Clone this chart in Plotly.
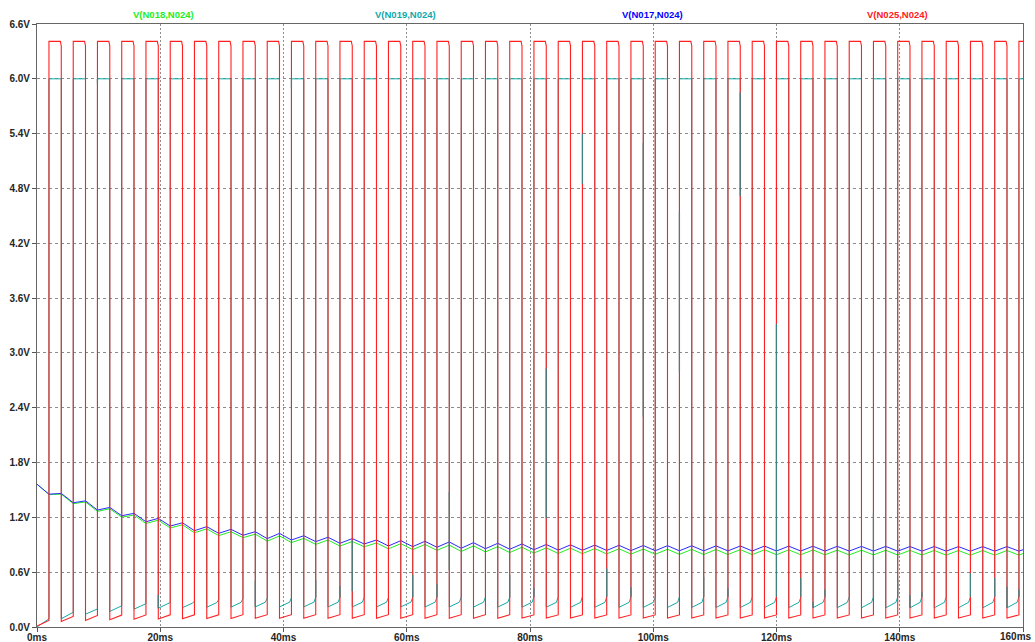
import plotly.graph_objects as go

# ---------------------------------------------------------------------------
# Transient result: four node voltages referenced to N024
# ---------------------------------------------------------------------------

# start of each switching cycle (ms); every cycle opens with the low phase
cycle_start = [
    0.00, 3.94, 7.87, 11.81, 15.74, 19.68, 23.61, 27.55, 31.48, 35.42,
    39.35, 43.29, 47.22, 51.16, 55.09, 59.03, 62.96, 66.90, 70.83, 74.77,
    78.70, 82.64, 86.57, 90.51, 94.44, 98.38, 102.31, 106.25, 110.18, 114.12,
    118.05, 121.99, 125.92, 129.86, 133.79, 137.73, 141.66, 145.60, 149.53, 153.47,
    157.40,
]
low_time = 1.94      # ms spent in the low phase of every cycle
t_end = 160.0

# V(N025,N024): switching node
red_low_start = [
    0.010, 0.060, 0.072, 0.080, 0.085, 0.088, 0.090, 0.092, 0.094, 0.095,
    0.096, 0.096, 0.096, 0.096, 0.096, 0.096, 0.096, 0.096, 0.096, 0.096,
    0.098, 0.098, 0.098, 0.098, 0.098, 0.098, 0.098, 0.098, 0.098, 0.098,
    0.098, 0.098, 0.098, 0.098, 0.098, 0.098, 0.098, 0.098, 0.098, 0.098,
    0.098,
]
red_low_end = [
    0.072, 0.116, 0.127, 0.130, 0.132, 0.133, 0.134, 0.134, 0.135, 0.135,
    0.135, 0.135, 0.135, 0.135, 0.135, 0.135, 0.135, 0.135, 0.135, 0.135,
    0.132, 0.132, 0.132, 0.132, 0.132, 0.132, 0.132, 0.132, 0.132, 0.132,
    0.132, 0.132, 0.132, 0.132, 0.132, 0.132, 0.132, 0.132, 0.132, 0.132,
    0.132,
]
red_high = 6.41
red_high_end = 6.36

# V(N019,N024): ramps in the low phase, clamps to 6.0 V in the high phase
teal_low_start = [
    0.000, 0.090, 0.140, 0.170, 0.195, 0.205, 0.212, 0.216, 0.218, 0.220,
    0.220, 0.220, 0.220, 0.220, 0.220, 0.220, 0.219, 0.219, 0.218, 0.218,
    0.217, 0.217, 0.216, 0.216, 0.215, 0.215, 0.214, 0.214, 0.213, 0.213,
    0.212, 0.212, 0.211, 0.211, 0.210, 0.210, 0.210, 0.210, 0.210, 0.210,
    0.210,
]
teal_low_knee = [
    0.076, 0.150, 0.186, 0.220, 0.242, 0.255, 0.262, 0.268, 0.270, 0.272,
    0.272, 0.272, 0.272, 0.272, 0.272, 0.272, 0.272, 0.272, 0.272, 0.272,
    0.272, 0.270, 0.270, 0.270, 0.270, 0.270, 0.270, 0.270, 0.270, 0.270,
    0.270, 0.270, 0.270, 0.270, 0.270, 0.270, 0.270, 0.270, 0.270, 0.270,
    0.270,
]
teal_low_end = [
    0.090, 0.162, 0.198, 0.232, 0.255, 0.268, 0.282, 0.300, 0.312, 0.318,
    0.322, 0.325, 0.325, 0.328, 0.325, 0.325, 0.328, 0.330, 0.328, 0.325,
    0.330, 0.335, 0.334, 0.330, 0.330, 0.330, 0.330, 0.330, 0.330, 0.330,
    0.330, 0.320, 0.325, 0.330, 0.330, 0.330, 0.330, 0.330, 0.330, 0.330,
    0.330,
]
teal_high = 6.0

# V(N017,N024): value at each cycle start (peak) and at the low-to-high edge (trough)
blue_peak = [
    1.563, 1.462, 1.381, 1.309, 1.244, 1.189, 1.141, 1.098, 1.069, 1.043,
    1.025, 0.999, 0.982, 0.967, 0.952, 0.945, 0.938, 0.931, 0.923, 0.916,
    0.909, 0.903, 0.899, 0.896, 0.894, 0.892, 0.890, 0.889, 0.888, 0.887,
    0.886, 0.885, 0.884, 0.883, 0.882, 0.882, 0.881, 0.881, 0.880, 0.880,
    0.880,
]
blue_trough = [
    1.454, 1.360, 1.280, 1.218, 1.152, 1.105, 1.054, 1.025, 1.004, 0.967,
    0.952, 0.934, 0.916, 0.909, 0.887, 0.880, 0.873, 0.862, 0.857, 0.851,
    0.846, 0.842, 0.840, 0.838, 0.836, 0.835, 0.834, 0.833, 0.833, 0.832,
    0.832, 0.832, 0.831, 0.831, 0.831, 0.830, 0.830, 0.830, 0.830, 0.830,
    0.830,
]
blue_end = 0.846

# V(N018,N024)
green_peak = [
    1.563, 1.454, 1.369, 1.294, 1.226, 1.169, 1.119, 1.074, 1.043, 1.016,
    0.997, 0.970, 0.952, 0.936, 0.920, 0.912, 0.904, 0.896, 0.888, 0.880,
    0.873, 0.866, 0.862, 0.858, 0.856, 0.853, 0.851, 0.849, 0.848, 0.847,
    0.845, 0.844, 0.843, 0.841, 0.840, 0.840, 0.839, 0.838, 0.837, 0.837,
    0.837,
]
green_trough = [
    1.450, 1.350, 1.266, 1.202, 1.133, 1.084, 1.031, 1.000, 0.978, 0.939,
    0.924, 0.904, 0.886, 0.878, 0.855, 0.847, 0.839, 0.827, 0.822, 0.815,
    0.810, 0.805, 0.803, 0.800, 0.798, 0.796, 0.795, 0.793, 0.793, 0.792,
    0.791, 0.791, 0.790, 0.789, 0.789, 0.788, 0.788, 0.787, 0.787, 0.787,
    0.787,
]
green_end = 0.804

# short switching glitches on V(N019,N024): time (ms), lower and upper voltage
spike_t = [9.81, 19.68, 35.42, 41.29, 45.23, 49.16, 51.16, 60.97, 64.90, 66.90,
           76.71, 80.64, 82.64, 88.51, 92.45, 96.38, 98.38, 104.25, 108.19, 112.12,
           114.12, 119.99, 123.93, 125.92, 127.86, 135.73, 139.67, 141.66, 143.60, 151.47,
           155.41, 157.40, 159.34]
spike_lo = [5.95, 0.205, 0.220, 5.90, 0.325, 0.325, 0.390, 0.325, 0.325, 0.625,
            0.325, 0.330, 1.190, 4.850, 0.330, 0.330, 2.300, 2.790, 0.330, 0.330,
            4.720, 0.330, 0.330, 0.210, 0.330, 0.330, 0.330, 0.210, 0.330, 0.330,
            0.330, 0.210, 0.330]
spike_hi = [6.00, 0.350, 0.505, 6.00, 0.516, 0.450, 0.950, 0.570, 0.470, 1.480,
            0.570, 0.425, 2.830, 5.400, 0.640, 0.436, 5.300, 4.550, 0.550, 0.425,
            5.850, 3.320, 0.540, 0.270, 0.410, 1.244, 0.524, 0.350, 0.380, 0.590,
            0.540, 0.440, 0.410]

x_ticks = [0, 20, 40, 60, 80, 100, 120, 140, 160]
x_tick_text = ["0ms", "20ms", "40ms", "60ms", "80ms", "100ms", "120ms", "140ms", "160ms"]
y_ticks = [0.0, 0.6, 1.2, 1.8, 2.4, 3.0, 3.6, 4.2, 4.8, 5.4, 6.0, 6.6]
y_tick_text = ["0.0V", "0.6V", "1.2V", "1.8V", "2.4V", "3.0V", "3.6V",
               "4.2V", "4.8V", "5.4V", "6.0V", "6.6V"]

trace_names = ["V(N018,N024)", "V(N019,N024)", "V(N017,N024)", "V(N025,N024)"]
trace_colors = ["#22ee22", "#11aaaa", "#0000ff", "#ff2020"]
spike_color = "#3f8282"


def cycle_bounds(k):
    s = cycle_start[k]
    e = cycle_start[k + 1] if k + 1 < len(cycle_start) else t_end
    return s, min(s + low_time, e), e


def triangle_wave(peaks, troughs, end_value):
    xs, ys = [], []
    for k in range(len(cycle_start)):
        s, r, _ = cycle_bounds(k)
        xs += [s, r]
        ys += [peaks[k], troughs[k]]
    xs.append(t_end)
    ys.append(end_value)
    return xs, ys


def teal_wave():
    xs, ys = [], []
    for k in range(len(cycle_start)):
        s, r, e = cycle_bounds(k)
        xs += [s, s + 0.85 * (r - s), r, r, e]
        ys += [teal_low_start[k], teal_low_knee[k], teal_low_end[k], teal_high, teal_high]
    return xs, ys


def red_wave():
    xs, ys = [], []
    for k in range(len(cycle_start)):
        s, r, e = cycle_bounds(k)
        xs += [s, r, r]
        ys += [red_low_start[k], red_low_end[k], red_high]
        if e < t_end:
            xs += [e - 0.15, e]
            ys += [red_high, red_high_end]
        else:
            xs.append(e)
            ys.append(red_high)
    return xs, ys


green_x, green_y = triangle_wave(green_peak, green_trough, green_end)
blue_x, blue_y = triangle_wave(blue_peak, blue_trough, blue_end)
teal_x, teal_y = teal_wave()
red_x, red_y = red_wave()

spike_x, spike_y = [], []
for t, lo, hi in zip(spike_t, spike_lo, spike_hi):
    spike_x += [t, t, None]
    spike_y += [lo, hi, None]

fig = go.Figure()
fig.add_trace(go.Scatter(x=green_x, y=green_y, mode="lines", name=trace_names[0],
                         line=dict(color=trace_colors[0], width=1)))
fig.add_trace(go.Scatter(x=teal_x, y=teal_y, mode="lines", name=trace_names[1],
                         line=dict(color=trace_colors[1], width=1)))
fig.add_trace(go.Scatter(x=blue_x, y=blue_y, mode="lines", name=trace_names[2],
                         line=dict(color="#2a2aff", width=1)))
fig.add_trace(go.Scatter(x=red_x, y=red_y, mode="lines", name=trace_names[3],
                         line=dict(color=trace_colors[3], width=1.1)))
fig.add_trace(go.Scatter(x=spike_x, y=spike_y, mode="lines", name="glitch",
                         line=dict(color=spike_color, width=1.2), showlegend=False))

font_family = "Liberation Sans, Arial, sans-serif"
label_font = dict(family=font_family, size=10, color="#262626", weight="bold")

# trace labels across the top of the pane
label_pos = [0.128, 0.374, 0.624, 0.873]
for name, color, xp in zip(trace_names, trace_colors, label_pos):
    fig.add_annotation(x=xp, y=1, xref="paper", yref="paper", xanchor="center", yanchor="bottom",
                       yshift=2, text=name, showarrow=False,
                       font=dict(family=font_family, size=9.5, color=color, weight="bold"))

# last time label sits flush with the right edge of the page
fig.add_annotation(x=1, y=0, xref="paper", yref="paper", xanchor="right", yanchor="top",
                   xshift=11, yshift=-2, text=x_tick_text[-1], showarrow=False,
                   font=label_font)

fig.update_layout(
    width=1035, height=642,
    margin=dict(l=37, r=12, t=24, b=15),
    paper_bgcolor="white", plot_bgcolor="white",
    showlegend=False,
    template="none",
)
fig.update_xaxes(
    range=[0, 160], tickvals=x_ticks, ticktext=x_tick_text[:-1] + [""], tickfont=label_font,
    showgrid=True, gridcolor="#8c8c8c", gridwidth=1, griddash="2px,2px",
    showline=True, linecolor="#666666", linewidth=1, mirror=True,
    ticks="outside", ticklen=4, tickcolor="#555555", zeroline=False, automargin=False,
    ticklabelstandoff=-3, ticklabeloverflow="allow",
)
fig.update_yaxes(
    range=[0, 6.6], tickvals=y_ticks, ticktext=y_tick_text, tickfont=label_font,
    showgrid=True, gridcolor="#8c8c8c", gridwidth=1, griddash="3px,3px",
    showline=True, linecolor="#666666", linewidth=1, mirror=True,
    ticks="outside", ticklen=4, tickcolor="#555555", zeroline=False, automargin=False,
)

fig.write_html("out.html")
